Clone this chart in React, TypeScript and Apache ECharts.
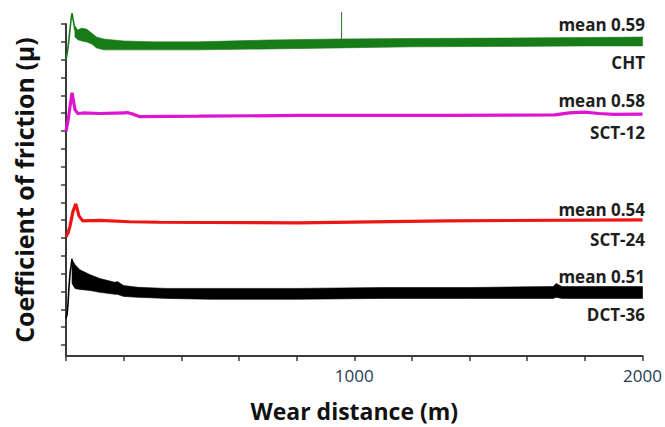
import React, { useEffect, useRef } from "react";
import * as echarts from "echarts";

// Wear distance (m) and offset friction traces (values in tick units of the unlabeled y axis)
const sampleNames = ["CHT", "SCT-12", "SCT-24", "DCT-36"];
const meanCoefficients = [0.59, 0.58, 0.54, 0.51];
const xTickLabels = [1000, 2000];
const yTickValues = [0.62, 1.62, 2.62, 3.62, 4.62, 5.62, 6.62, 7.62, 8.62, 9.62, 10.62, 11.62, 12.62, 13.62, 14.62, 15.62, 16.62, 17.62, 18.62];

// CHT (green)
const chtStartD = [0, 5, 10, 18, 21, 25, 31];
const chtStartV = [16.61, 17.06, 17.73, 18.95, 19.23, 18.84, 18.28];
const chtBandD = [31, 41, 55, 72, 89, 106, 130, 200, 300, 460, 700, 950, 1200, 1500, 1800, 2000];
const chtBandLow = [17.89, 17.73, 17.67, 17.61, 17.5, 17.28, 17.17, 17.17, 17.17, 17.17, 17.22, 17.28, 17.34, 17.36, 17.39, 17.39];
const chtBandWidth = [0.61, 0.56, 0.72, 0.72, 0.61, 0.61, 0.61, 0.5, 0.45, 0.45, 0.5, 0.5, 0.47, 0.47, 0.47, 0.5];
const chtSpikeD = [956, 956];
const chtSpikeV = [17.4, 19.29];

// SCT-12 (magenta)
const sct12D = [0, 7, 14, 21, 27, 31, 41, 60, 117, 170, 202, 213, 235, 254, 460, 803, 1317, 1695, 1746, 1798, 1849, 1900, 2000];
const sct12V = [12.6, 13.2, 13.99, 14.77, 14.2, 13.82, 13.6, 13.63, 13.6, 13.62, 13.63, 13.66, 13.55, 13.43, 13.45, 13.49, 13.49, 13.52, 13.64, 13.68, 13.6, 13.55, 13.57];

// SCT-24 (red)
const sct24D = [0, 7, 14, 24, 34, 45, 58, 117, 220, 322, 803, 1317, 2000];
const sct24V = [6.69, 6.9, 7.3, 8.1, 8.53, 7.86, 7.58, 7.61, 7.53, 7.5, 7.47, 7.58, 7.64];

// DCT-36 (black)
const dct36StartD = [0, 4, 7, 10, 14, 21];
const dct36StartV = [2.12, 2.34, 2.95, 3.79, 4.63, 5.46];
const dct36BandD = [21, 31, 48, 82, 117, 170, 178, 200, 250, 350, 500, 800, 1100, 1400, 1690, 1700, 1720, 2000];
const dct36BandLow = [4.07, 3.79, 3.73, 3.68, 3.57, 3.46, 3.46, 3.34, 3.29, 3.23, 3.18, 3.18, 3.23, 3.23, 3.23, 3.29, 3.23, 3.23];
const dct36BandWidth = [1.34, 1.34, 1.11, 0.89, 0.78, 0.67, 0.72, 0.61, 0.56, 0.56, 0.61, 0.61, 0.61, 0.61, 0.67, 0.78, 0.67, 0.67];

const pair = (xs: number[], ys: number[]) => xs.map((x, i) => [x, ys[i]]);

const FONT = "'Open Sans', 'Noto Sans', sans-serif";

function thinLine(name: string, data: number[][], color: string, width: number) {
  return {
    name,
    type: "line",
    data,
    symbol: "none",
    clip: false,
    lineStyle: { color, width },
    z: 3,
  };
}

// noisy band drawn as a polygon between lower and upper envelope, via the axis scales
function band(name: string, d: number[], low: number[], wid: number[], color: string) {
  return {
    name,
    type: "custom",
    coordinateSystem: "cartesian2d",
    data: pair(d, low),
    encode: { x: 0, y: 1 },
    z: 2,
    renderItem: (params: any, api: any) => {
      if (params.dataIndex !== 0) return null;
      const upper = d.map((x, i) => api.coord([x, low[i] + wid[i]]));
      const lower = d.map((x, i) => api.coord([x, low[i]])).reverse();
      return {
        type: "polygon",
        shape: { points: upper.concat(lower) },
        style: { fill: color, stroke: color, lineWidth: 0.6 },
      };
    },
  };
}

const GREEN = "#177b17";
const MAGENTA = "#dd14d0";
const RED = "#ee1515";
const BLACK = "#000000";

// annotation rows: [y pixel for mean text, y pixel for name text]
const labelRows = [
  [24, 62],
  [100, 132],
  [209, 239],
  [276, 314],
];

export default function App() {
  const ref = useRef<HTMLDivElement>(null);
  useEffect(() => {
    if (!ref.current) return;
    const chart = echarts.init(ref.current, null, { renderer: "svg" });
    const graphics: any[] = [];
    sampleNames.forEach((n, i) => {
      graphics.push({
        type: "text",
        x: 645,
        y: labelRows[i][0],
        z: 10,
        style: {
          text: "mean " + meanCoefficients[i].toFixed(2),
          font: `bold 17px ${FONT}`,
          fill: "#1e1e1e",
          align: "right",
          verticalAlign: "middle",
        },
      });
      graphics.push({
        type: "text",
        x: 645,
        y: labelRows[i][1],
        z: 10,
        style: {
          text: n,
          font: `bold 17px ${FONT}`,
          fill: "#1e1e1e",
          align: "right",
          verticalAlign: "middle",
        },
      });
    });

    chart.setOption({
      animation: false,
      backgroundColor: "#ffffff",
      grid: { left: 66, right: 16, top: 24, bottom: 69, containLabel: false },
      xAxis: {
        type: "value",
        min: 0,
        max: 2000,
        interval: 200,
        name: "Wear distance (m)",
        nameLocation: "middle",
        nameGap: 43,
        nameTextStyle: { fontFamily: FONT, fontWeight: "bold", fontSize: 23, color: "#111" },
        axisLine: { show: true, lineStyle: { color: "#3a3a3a", width: 2 } },
        axisTick: { show: true, length: 5, lineStyle: { color: "#3a3a3a", width: 1.5 } },
        axisLabel: {
          margin: 11,
          fontFamily: FONT,
          fontSize: 17,
          color: "#263a57",
          formatter: (v: number) => (xTickLabels.indexOf(v) >= 0 ? String(v) : ""),
        },
        splitLine: { show: false },
      },
      yAxis: {
        type: "value",
        min: 0,
        max: 18.62,
        name: "Coefficient of friction (μ)",
        nameLocation: "middle",
        nameRotate: 90,
        nameGap: 30,
        nameTextStyle: { fontFamily: FONT, fontWeight: "bold", fontSize: 25, color: "#111" },
        axisLine: { show: true, lineStyle: { color: "#3a3a3a", width: 2 } },
        axisTick: { show: true, length: 5, customValues: yTickValues, lineStyle: { color: "#3a3a3a", width: 1.5 } },
        axisLabel: { show: false },
        splitLine: { show: false },
      },
      graphic: graphics,
      series: [
        band("CHT", chtBandD, chtBandLow, chtBandWidth, GREEN),
        thinLine("CHT-start", pair(chtStartD, chtStartV), GREEN, 1.6),
        thinLine("CHT-spike", pair(chtSpikeD, chtSpikeV), GREEN, 1),
        thinLine("SCT-12", pair(sct12D, sct12V), MAGENTA, 3.2),
        thinLine("SCT-24", pair(sct24D, sct24V), RED, 3.2),
        band("DCT-36", dct36BandD, dct36BandLow, dct36BandWidth, BLACK),
        thinLine("DCT-36-start", pair(dct36StartD, dct36StartV), BLACK, 1.6),
      ],
    });
    return () => chart.dispose();
  }, []);
  return (
    <div
      ref={ref}
      style={{ position: "fixed", left: 0, top: 0, width: 665, height: 427, background: "#fff" }}
    />
  );
}
